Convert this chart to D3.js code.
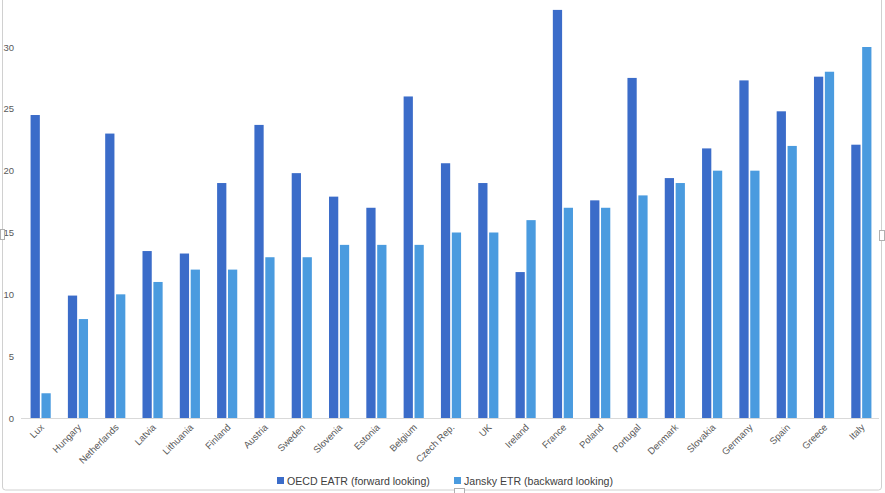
<!DOCTYPE html>
<html>
<head>
<meta charset="utf-8">
<script src="https://cdn.jsdelivr.net/npm/d3@7"></script>
<style>
  body { margin: 0; background: #fff; }
  svg { display: block; font-family: "Liberation Sans", Arial, sans-serif; }
</style>
</head>
<body>
<svg id="chart" width="885" height="493"></svg>
<script>
// country order as shown, left to right
const countries = ['Lux', 'Hungary', 'Netherlands', 'Latvia', 'Lithuania', 'Finland', 'Austria',
  'Sweden', 'Slovenia', 'Estonia', 'Belgium', 'Czech Rep.', 'UK', 'Ireland', 'France', 'Poland',
  'Portugal', 'Denmark', 'Slovakia', 'Germany', 'Spain', 'Greece', 'Italy'];

// OECD EATR (forward looking)
const oecdValues = [24.5, 9.9, 23.0, 13.5, 13.3, 19.0, 23.7, 19.8, 17.9, 17.0, 26.0, 20.6, 19.0,
  11.8, 33.0, 17.6, 27.5, 19.4, 21.8, 27.3, 24.8, 27.6, 22.1];

// Jansky ETR (backward looking)
const janskyValues = [2, 8, 10, 11, 12, 12, 13, 13, 14, 14, 14, 15, 15, 16, 17, 17, 18, 19, 20,
  20, 22, 28, 30];

const yTicks = [0, 5, 10, 15, 20, 25, 30];
const seriesNames = ['OECD EATR (forward looking)', 'Jansky ETR (backward looking)'];
const seriesColors = ['#3b6cc9', '#4a9bdf'];

const svg = d3.select('#chart');

// chart frame (excel style selection border)
svg.append('rect')
  .attr('x', 2.5).attr('y', -10)
  .attr('width', 879).attr('height', 500)
  .attr('rx', 3)
  .attr('fill', 'none')
  .attr('stroke', '#d0d0d0');

const x = d3.scaleBand()
  .domain(countries)
  .range([22, 880])
  .paddingInner(0.46)
  .paddingOuter(0.23);

const xInner = d3.scaleBand()
  .domain([0, 1])
  .range([0, x.bandwidth()])
  .paddingInner(0.15);

const y = d3.scaleLinear()
  .domain([0, 30])
  .range([418, 47]);

// y axis labels only, no line
const yAxis = svg.append('g')
  .attr('transform', 'translate(14,0)')
  .call(d3.axisLeft(y).tickValues(yTicks).tickSize(0).tickPadding(0));
yAxis.select('.domain').remove();
yAxis.selectAll('text')
  .attr('fill', '#595959')
  .style('font-size', '9.5px');

// bars
const rows = countries.map((c, i) => ({ country: c, vals: [oecdValues[i], janskyValues[i]] }));

const groups = svg.append('g').selectAll('g')
  .data(rows)
  .enter().append('g')
  .attr('transform', d => `translate(${x(d.country)},0)`);

groups.selectAll('rect')
  .data(d => d.vals.map((v, k) => ({ k, v })))
  .enter().append('rect')
  .attr('x', d => xInner(d.k))
  .attr('width', xInner.bandwidth())
  .attr('y', d => y(d.v))
  .attr('height', d => y(0) - y(d.v))
  .attr('fill', d => seriesColors[d.k]);

// x axis
const xAxis = svg.append('g')
  .attr('transform', `translate(0,${y(0)})`)
  .call(d3.axisBottom(x).tickSize(0).tickPadding(0));
xAxis.select('.domain')
  .attr('stroke', '#d9d9d9')
  .attr('d', 'M21,0.5H879');
xAxis.selectAll('text')
  .attr('fill', '#595959')
  .style('font-size', '9.5px')
  .attr('text-anchor', 'end')
  .attr('dy', null)
  .attr('transform', 'translate(4,10) rotate(-45)');

// legend
const legend = svg.append('g');
const legendX = [277, 454];
seriesNames.forEach((name, k) => {
  legend.append('rect')
    .attr('x', legendX[k]).attr('y', 477)
    .attr('width', 7).attr('height', 7)
    .attr('fill', seriesColors[k]);
  legend.append('text')
    .attr('x', legendX[k] + 10).attr('y', 484.5)
    .attr('fill', '#404040')
    .style('font-size', '10.6px')
    .text(name);
});

// little selection handles
const handles = [[879, 230, 5, 10], [454, 488, 10, 5], [0, 229, 4, 10]];
svg.append('g').selectAll('rect')
  .data(handles)
  .enter().append('rect')
  .attr('x', d => d[0] + 0.5).attr('y', d => d[1] + 0.5)
  .attr('width', d => d[2]).attr('height', d => d[3])
  .attr('fill', '#fff')
  .attr('stroke', '#b0b0b0');
</script>
</body>
</html>
